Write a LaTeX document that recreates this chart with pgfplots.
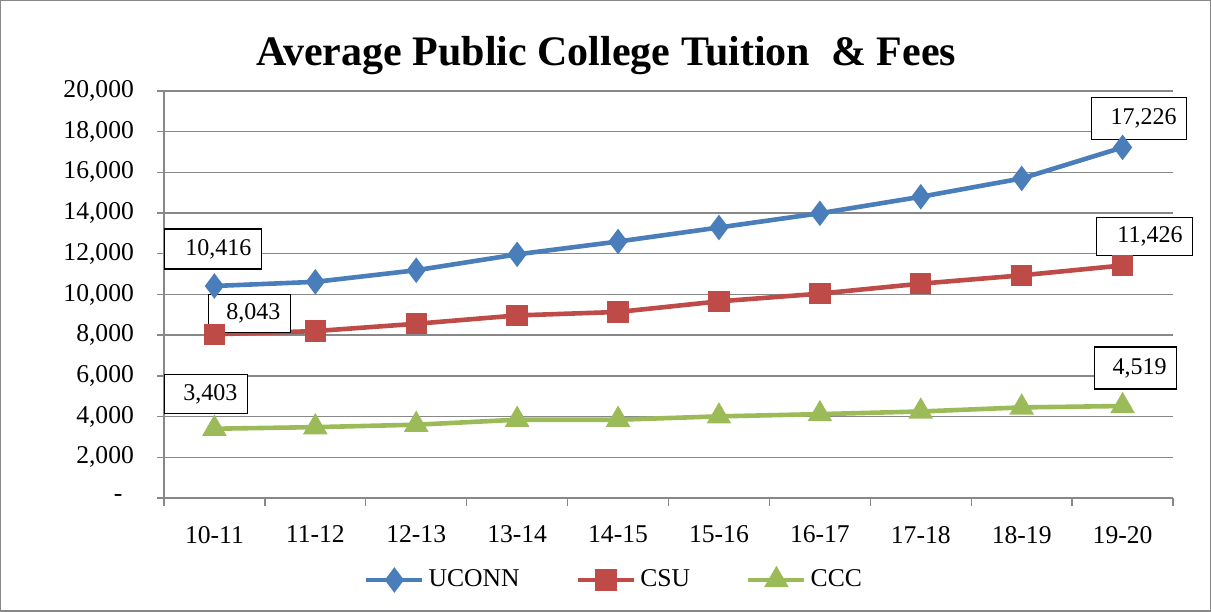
\documentclass[border=0pt]{standalone}
\usepackage{pgfplots}
\pgfplotsset{compat=1.18}
\usepackage{fontspec}
\setmainfont{Liberation Serif}
\definecolor{cblue}{HTML}{4A7EBB}
\definecolor{cred}{HTML}{BE4B48}
\definecolor{cgreen}{HTML}{9BBB59}
\definecolor{gridgray}{HTML}{888888}
\newcommand{\tfont}{\fontsize{12.8}{15}\selectfont}
\newcommand{\lfont}{\fontsize{12}{14}\selectfont}
\tikzset{dlabel/.style={draw=black, line width=0.75pt, fill=white, inner xsep=5pt, inner ysep=0pt, align=right, font=\lfont}}
\begin{document}
\begin{tikzpicture}
\begin{axis}[
  scale only axis, width=504.5pt, height=203.5pt,
  xmin=-0.5, xmax=9.5, ymin=0, ymax=20000,
  clip=false,
  scaled y ticks=false,
  axis x line*=bottom, axis y line*=left,
  axis line style={-, draw=gridgray, line width=0.7pt},
  xtick={0,1,2,3,4,5,6,7,8,9},
  xticklabels={10-11,11-12,12-13,13-14,14-15,15-16,16-17,17-18,18-19,19-20},
  minor xtick={-0.5,0.5,1.5,2.5,3.5,4.5,5.5,6.5,7.5,8.5,9.5},
  major x tick style={draw=none},
  minor x tick style={draw=gridgray, line width=0.7pt},
  minor tick length=4pt,
  ytick={0,2000,4000,6000,8000,10000,12000,14000,16000,18000,20000},
  yticklabels={{\makebox[10pt][l]{-}},{2,000},{4,000},{6,000},{8,000},{10,000},{12,000},{14,000},{16,000},{18,000},{20,000}},
  major y tick style={draw=gridgray, line width=0.7pt},
  major tick length=3.5pt,
  tick align=outside,
  ymajorgrids, grid style={draw=gridgray, line width=0.7pt},
  tick label style={font=\tfont},
  xticklabel style={yshift=-7pt},
  yticklabel style={xshift=-8pt},
  legend style={at={(0.447,-0.2015)}, anchor=center, draw=none, font=\tfont,
    /tikz/every even column/.append style={column sep=26pt}},
  legend columns=3,
  legend image code/.code={\draw[mark repeat=2, mark phase=2] plot coordinates {(0pt,0pt)(14pt,0pt)(28pt,0pt)};},
]
\addplot[cblue, line width=2.3pt, mark=diamond*, mark size=4.5pt, mark options={solid}]
  coordinates {(0,10416)(1,10620)(2,11190)(3,11970)(4,12600)(5,13290)(6,13990)(7,14800)(8,15700)(9,17226)};
\addlegendentry{UCONN}
\addplot[cred, line width=2.3pt, mark=square*, mark size=4.2pt]
  coordinates {(0,8043)(1,8200)(2,8560)(3,8970)(4,9140)(5,9660)(6,10040)(7,10530)(8,10940)(9,11426)};
\addlegendentry{CSU}
\addplot[cgreen, line width=2.3pt, mark=triangle*, mark size=4.8pt]
  coordinates {(0,3403)(1,3480)(2,3600)(3,3845)(4,3845)(5,4010)(6,4120)(7,4250)(8,4450)(9,4519)};
\addlegendentry{CCC}
\node[dlabel, text width=38.5pt, minimum height=20pt] at ([xshift=-0.75pt,yshift=18.5pt]axis cs:0,10416) {10,416};
\node[dlabel, text width=31pt, minimum height=19pt] at ([xshift=17.5pt,yshift=10.5pt]axis cs:0,8043) {8,043};
\node[dlabel, text width=31.5pt, minimum height=19.5pt] at ([xshift=-4.25pt,yshift=17.25pt]axis cs:0,3403) {3,403};
\node[dlabel, text width=37.5pt, minimum height=21pt] at ([xshift=8.25pt,yshift=14.5pt]axis cs:9,17226) {17,226};
\node[dlabel, text width=38pt, minimum height=19pt] at ([xshift=11pt,yshift=14.5pt]axis cs:9,11426) {11,426};
\node[dlabel, text width=31pt, minimum height=21pt] at ([xshift=6.5pt,yshift=19pt]axis cs:9,4519) {4,519};
\end{axis}
\draw[gridgray, line width=0.75pt] ([xshift=-81.6pt,yshift=-56.6pt]current axis.south west) rectangle ([xshift=18.6pt,yshift=45.1pt]current axis.north east);
\node[anchor=base, font=\fontsize{21}{25}\selectfont\bfseries] at ([xshift=221pt,yshift=12.5pt]current axis.north west) {Average Public College Tuition \ \& Fees};
\end{tikzpicture}
\end{document}
